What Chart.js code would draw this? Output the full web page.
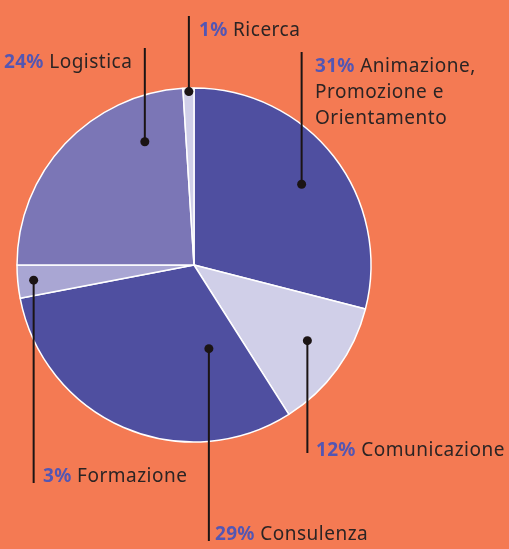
<!DOCTYPE html>
<html>
<head>
<meta charset="utf-8">
<script src="https://cdn.jsdelivr.net/npm/chart.js@4"></script>
<style>
html,body{margin:0;padding:0;background:#F47A53;}
#wrap{position:relative;width:509px;height:549px;overflow:hidden;}
canvas{position:absolute;left:0;top:0;}
.lbl{position:absolute;font-family:"Noto Sans","Open Sans",sans-serif;font-size:19px;line-height:26px;letter-spacing:0.5px;color:#2b2424;white-space:nowrap;}
.lbl b{color:#5356B3;font-weight:700;letter-spacing:0.3px;}
</style>
</head>
<body>
<div id="wrap"><canvas id="c" width="509" height="549"></canvas></div>
<script>
const categories = ["Animazione, Promozione e Orientamento", "Comunicazione", "Consulenza", "Formazione", "Logistica", "Ricerca"];
const labelLines = [["Animazione,", "Promozione e", "Orientamento"], ["Comunicazione"], ["Consulenza"], ["Formazione"], ["Logistica"], ["Ricerca"]];
// slice sizes as drawn in the picture
const values = [29, 12, 31, 3, 24, 1];
// percentages as printed in the labels
const percentLabels = ["31%", "12%", "29%", "3%", "24%", "1%"];
const colors = ["#4F4FA0", "#D0CFE8", "#4F4FA0", "#A9A6D3", "#7B76B6", "#D0CFE8"];

// annotation layout (position within slice, leader end, text anchor)
const annot = [
  {t:0.509, rf:0.76, lineEnd:52,  tx:315, ty:72},
  {t:0.447, rf:0.77, lineEnd:453, tx:316, ty:456},
  {t:0.2,   rf:0.48, lineEnd:541, tx:215, ty:540},
  {t:0.5,   rf:0.91, lineEnd:483, tx:43,  ty:482},
  {t:0.79,  rf:0.75, lineEnd:48,  tx:4,   ty:68},
  {t:0.53,  rf:0.98, lineEnd:16,  tx:199, ty:36}
];

const leaderPlugin = {
  id: 'leaders',
  afterDatasetsDraw(chart) {
    const ctx = chart.ctx;
    const meta = chart.getDatasetMeta(0);
    meta.data.forEach((arc, i) => {
      const a = annot[i];
      const p = arc.getProps(['x','y','startAngle','endAngle','outerRadius'], true);
      const ang = p.startAngle + (p.endAngle - p.startAngle) * a.t;
      const r = p.outerRadius * a.rf;
      const dx = p.x + Math.cos(ang) * r;
      const dy = p.y + Math.sin(ang) * r;
      ctx.save();
      ctx.strokeStyle = '#1b1414';
      ctx.lineWidth = 2;
      ctx.beginPath();
      ctx.moveTo(dx, dy);
      ctx.lineTo(dx, a.lineEnd);
      ctx.stroke();
      ctx.fillStyle = '#1b1414';
      ctx.beginPath();
      ctx.arc(dx, dy, 4.5, 0, Math.PI * 2);
      ctx.fill();
      ctx.restore();
    });
  }
};

new Chart(document.getElementById('c'), {
  type: 'pie',
  data: {
    labels: categories,
    datasets: [{
      data: values,
      backgroundColor: colors,
      borderColor: '#FFFFFF',
      borderWidth: 1.5
    }]
  },
  options: {
    responsive: false,
    animation: false,
    radius: 177,
    layout: {padding: {left: 17, top: 88, right: 138, bottom: 107}},
    plugins: {legend: {display: false}, tooltip: {enabled: false}}
  },
  plugins: [leaderPlugin]
});

// text labels
const wrap = document.getElementById('wrap');
categories.forEach((c, i) => {
  const a = annot[i];
  const d = document.createElement('div');
  d.className = 'lbl';
  d.style.left = a.tx + 'px';
  d.style.top = (a.ty - 20) + 'px';
  d.innerHTML = labelLines[i].map((ln, k) => (k === 0 ? '<b>' + percentLabels[i] + '</b> ' : '') + ln).join('<br>');
  wrap.appendChild(d);
});
</script>
</body>
</html>
